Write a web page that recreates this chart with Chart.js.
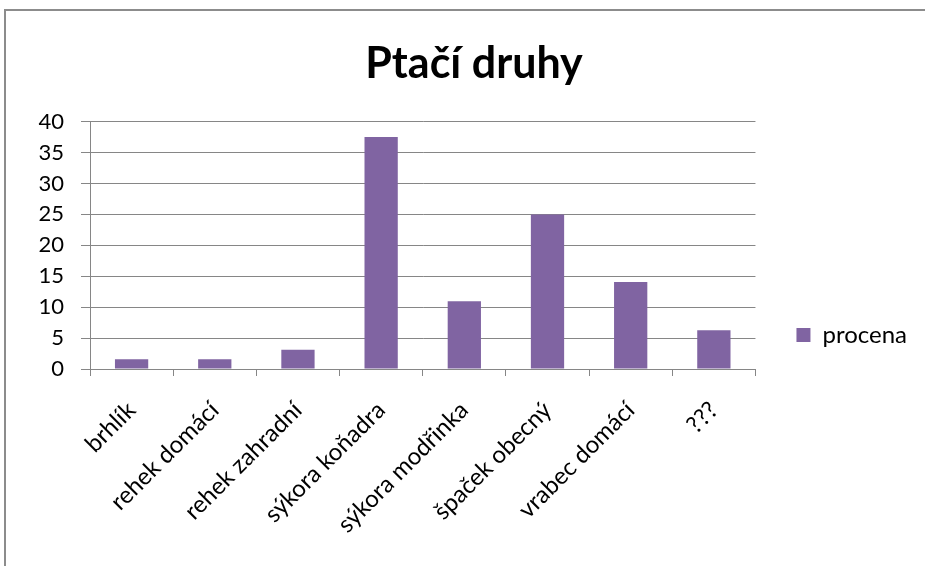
<!DOCTYPE html>
<html>
<head>
<meta charset="utf-8">
<script src="https://cdn.jsdelivr.net/npm/chart.js@4"></script>
<style>
  html, body { margin: 0; background: #fff; overflow: hidden; }
  .line { position: absolute; background: #8c8c8c; }
  #top_line { left: 4px; top: 9px; width: 921px; height: 2px; }
  #left_line { left: 4px; top: 9px; width: 2px; height: 557px; }
  #wrap { position: absolute; left: 0; top: 0; width: 925px; height: 566px; }
  #cover { position: absolute; left: 910px; top: 11px; width: 15px; height: 60px; background: #fff; z-index: 5; }
</style>
</head>
<body>
<div class="line" id="top_line"></div>
<div class="line" id="left_line"></div>
<div id="wrap"><canvas id="myChart"></canvas></div>
<div id="cover"></div>
<script>
// bird species, share in percent (counts out of 64)
var druhy = ['brhlík', 'rehek domácí', 'rehek zahradní', 'sýkora koňadra',
  'sýkora modřinka', 'špaček obecný', 'vrabec domácí', '???']
var procena = [1.56, 1.56, 3.13, 37.5, 10.94, 25, 14.06, 6.25]
var y_ticks = [0, 5, 10, 15, 20, 25, 30, 35, 40]

// move the legend down next to the lower part of the plot
var legendShift = {
  id: 'legendShift',
  afterLayout: function(chart) {
    chart.legend.top += 52
    chart.legend.bottom += 52
  }
}

const ctx = document.getElementById('myChart');

new Chart(ctx, {
  type: 'bar',
  data: {
    labels: druhy,
    datasets: [{
      label: 'procena',
      data: procena,
      backgroundColor: '#8064a2',
      borderWidth: 0,
      barPercentage: 0.4,
      categoryPercentage: 1
    }]
  },
  options: {
    responsive: true,
    maintainAspectRatio: false,
    animation: false,
    layout: { padding: { left: 31, right: 8, top: 0, bottom: 0 } },
    plugins: {
      title: {
        display: true,
        text: 'Ptačí druhy',
        color: '#000',
        font: { family: 'Lato', size: 43, weight: 'bold' },
        padding: { top: 38, bottom: 32 }
      },
      legend: {
        position: 'right',
        labels: {
          color: '#000',
          font: { family: 'Lato', size: 24 },
          boxWidth: 14,
          boxHeight: 14,
          padding: 41
        }
      },
      tooltip: { enabled: false }
    },
    scales: {
      y: {
        min: 0,
        max: 40,
        afterBuildTicks: function(axis) {
          axis.ticks = y_ticks.map(function(v) { return { value: v } })
        },
        afterFit: function(axis) { axis.width = 59 },
        ticks: { color: '#000', font: { family: 'Lato', size: 22 }, padding: 17 },
        grid: { color: '#868686', tickLength: 9, lineWidth: 1 },
        border: { color: '#868686' }
      },
      x: {
        afterFit: function(axis) { axis.height = 197 },
        ticks: {
          color: '#000', font: { family: 'Lato', size: 24 },
          minRotation: 45, maxRotation: 45, autoSkip: false, padding: 20
        },
        grid: { offset: true, drawOnChartArea: false, tickLength: 7, color: '#868686' },
        border: { color: '#868686' }
      }
    }
  },
  plugins: [legendShift]
});
</script>
</body>
</html>
